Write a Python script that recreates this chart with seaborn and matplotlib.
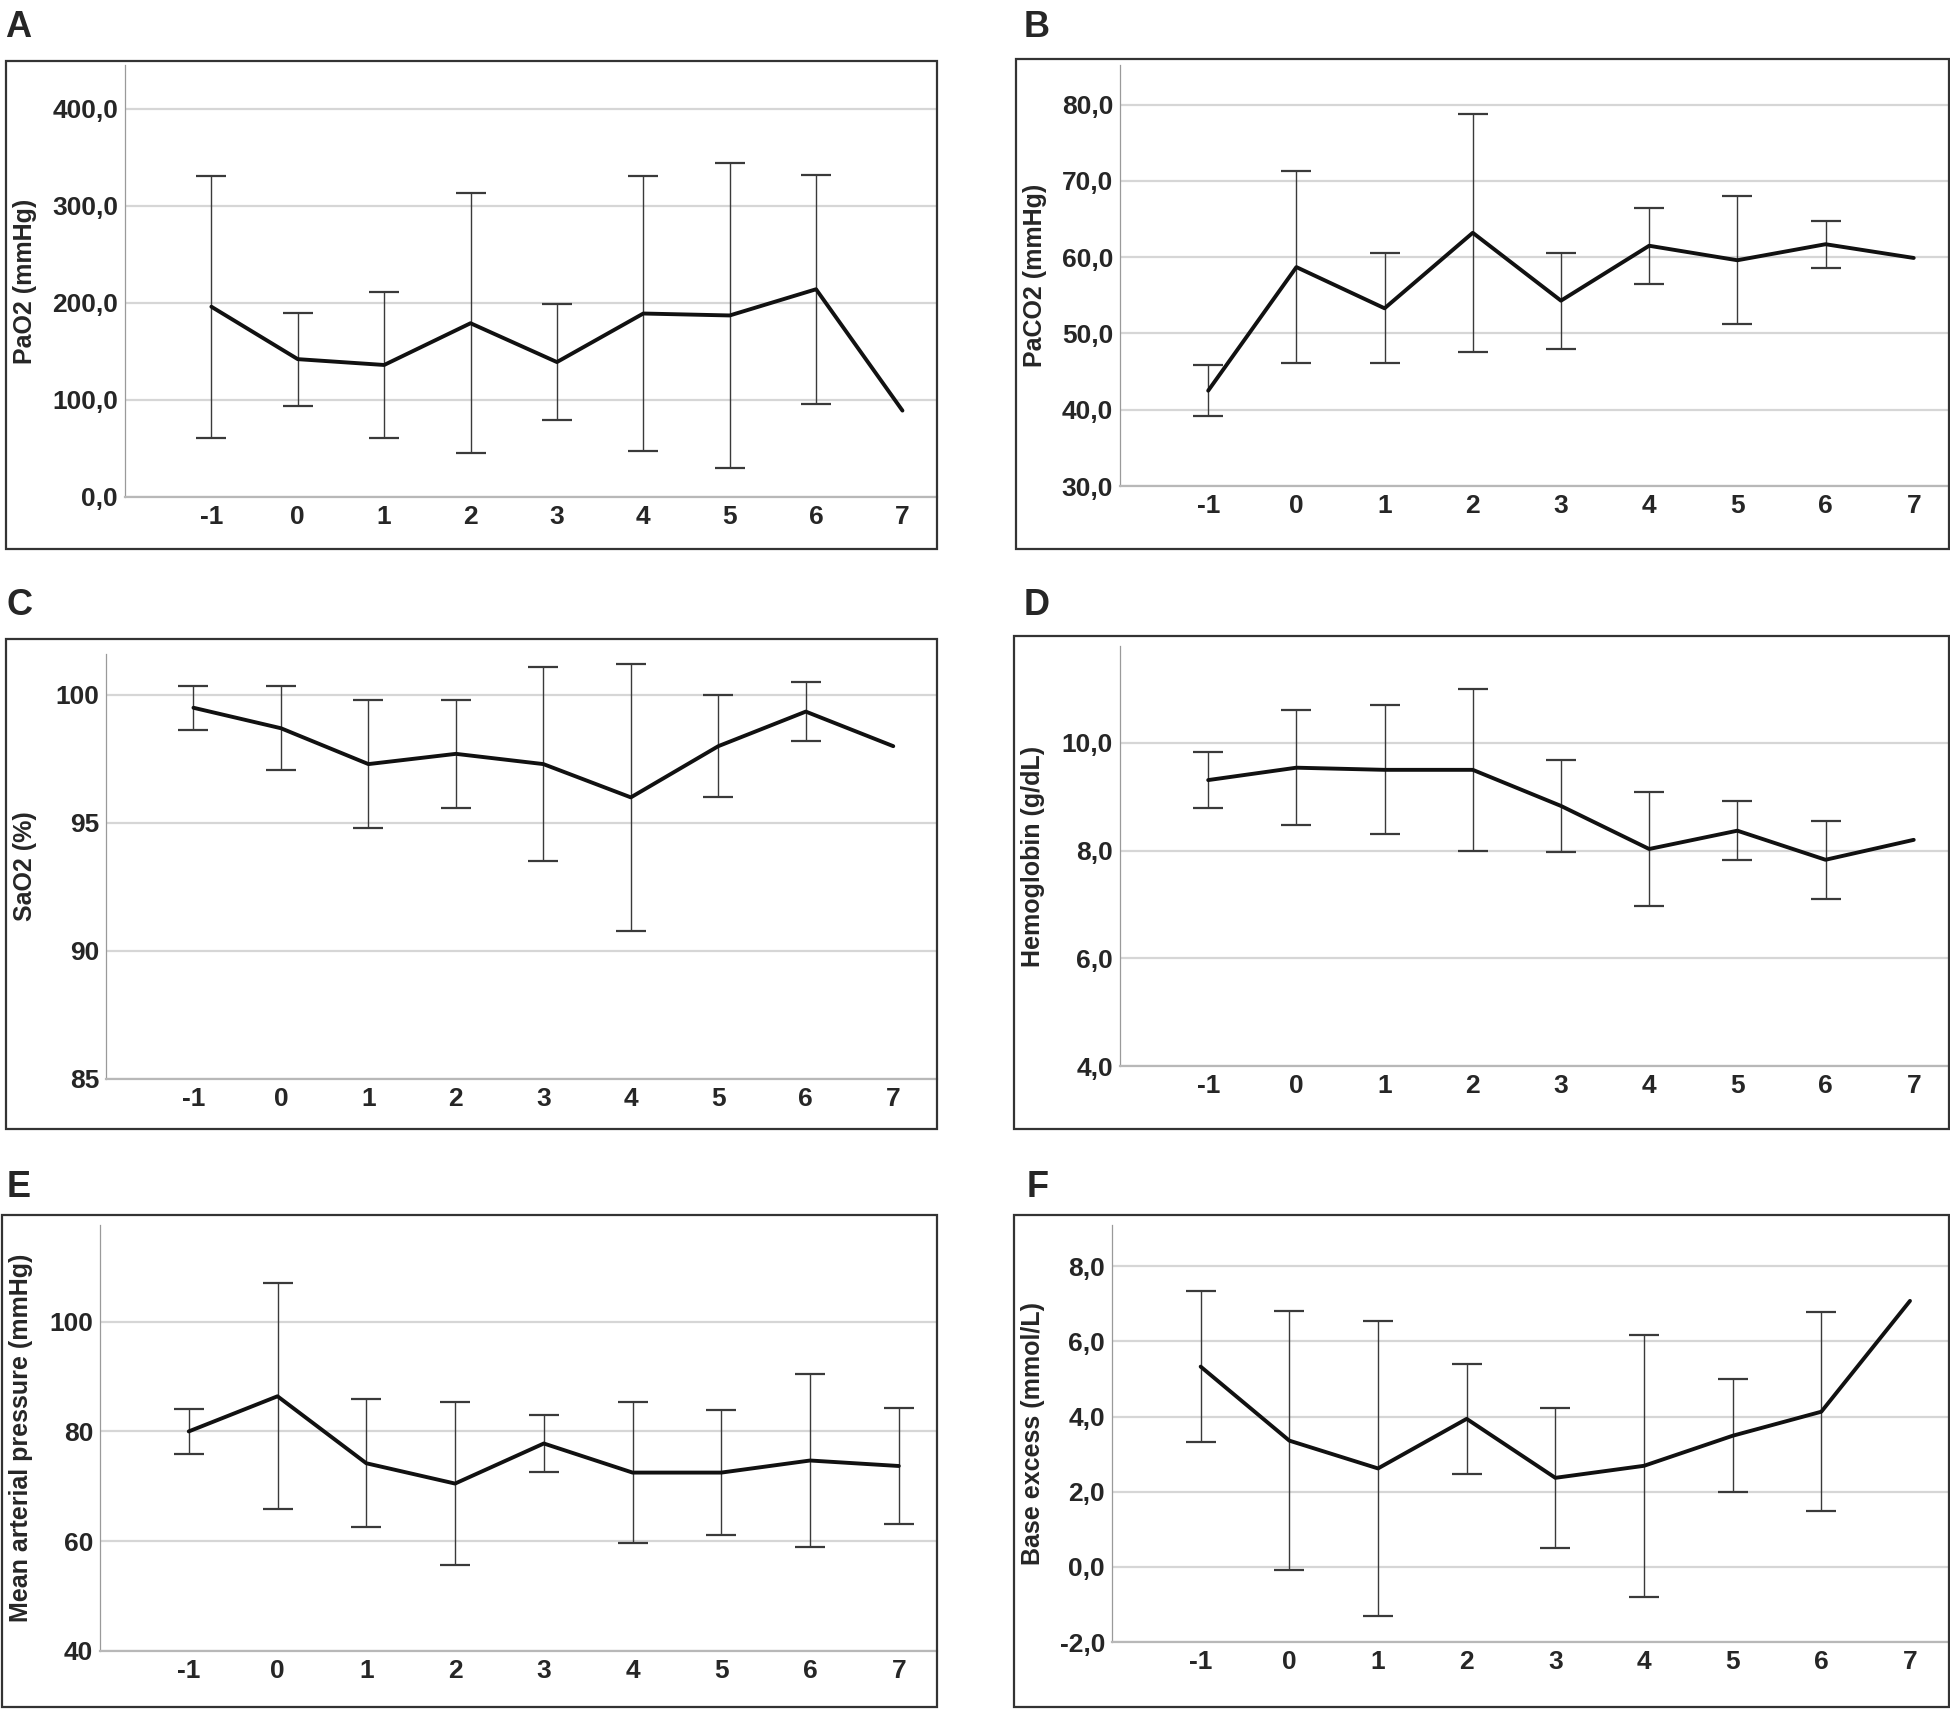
import numpy as np
import matplotlib
matplotlib.use("Agg")
import matplotlib.pyplot as plt
from matplotlib.patches import Rectangle
import seaborn as sns

#Day axis shared by all panels
days = [-1, 0, 1, 2, 3, 4, 5, 6, 7]
dayLabels = ["-1", "0", "1", "2", "3", "4", "5", "6", "7"]

#A - PaO2 (mean, SD)
pao2Mean = [196, 142, 136, 179, 139, 189, 187, 214, 89]
pao2Sd = [135, 48, 75, 134, 60, 142, 157, 118, np.nan]
pao2Ticks = [0, 100, 200, 300, 400]
pao2TickLabels = ["0,0", "100,0", "200,0", "300,0", "400,0"]

#B - PaCO2
paco2Mean = [42.5, 58.7, 53.3, 63.2, 54.3, 61.5, 59.6, 61.7, 59.9]
paco2Sd = [3.3, 12.6, 7.2, 15.6, 6.3, 5.0, 8.4, 3.1, np.nan]
paco2Ticks = [30, 40, 50, 60, 70, 80]
paco2TickLabels = ["30,0", "40,0", "50,0", "60,0", "70,0", "80,0"]

#C - SaO2
sao2Mean = [99.5, 98.7, 97.3, 97.7, 97.3, 96.0, 98.0, 99.35, 98.0]
sao2Sd = [0.85, 1.65, 2.5, 2.1, 3.8, 5.2, 2.0, 1.15, np.nan]
sao2Ticks = [85, 90, 95, 100]
sao2TickLabels = ["85", "90", "95", "100"]

#D - Hemoglobin
hbMean = [9.31, 9.54, 9.50, 9.50, 8.83, 8.03, 8.37, 7.83, 8.2]
hbSd = [0.52, 1.07, 1.2, 1.5, 0.85, 1.05, 0.55, 0.72, np.nan]
hbTicks = [4, 6, 8, 10]
hbTickLabels = ["4,0", "6,0", "8,0", "10,0"]

#E - Mean arterial pressure
mapMean = [80.0, 86.4, 74.2, 70.5, 77.8, 72.5, 72.5, 74.7, 73.7]
mapSd = [4.1, 20.6, 11.7, 14.9, 5.2, 12.9, 11.4, 15.7, 10.5]
mapTicks = [40, 60, 80, 100]
mapTickLabels = ["40", "60", "80", "100"]

#F - Base excess
beMean = [5.33, 3.36, 2.62, 3.94, 2.37, 2.69, 3.49, 4.13, 7.08]
beSd = [2.0, 3.45, 3.93, 1.46, 1.87, 3.49, 1.51, 2.65, np.nan]
beTicks = [-2, 0, 2, 4, 6, 8]
beTickLabels = ["-2,0", "0,0", "2,0", "4,0", "6,0", "8,0"]

panelLetters = ["A", "B", "C", "D", "E", "F"]
yLabels = ["PaO2 (mmHg)", "PaCO2 (mmHg)", "SaO2 (%)", "Hemoglobin (g/dL)",
           "Mean arterial pressure (mmHg)", "Base excess (mmol/L)"]
means = [pao2Mean, paco2Mean, sao2Mean, hbMean, mapMean, beMean]
sds = [pao2Sd, paco2Sd, sao2Sd, hbSd, mapSd, beSd]
yTicks = [pao2Ticks, paco2Ticks, sao2Ticks, hbTicks, mapTicks, beTicks]
yTickLabels = [pao2TickLabels, paco2TickLabels, sao2TickLabels, hbTickLabels, mapTickLabels, beTickLabels]
yTops = [445, 85.2, 101.6, 11.8, 117.6, 9.1]

#Layout in pixels (left, top, right, bottom)
W, H = 1950, 1709
axesPx = [(125, 65, 937, 497), (1120, 65, 1949, 486),
          (106, 654, 937, 1079), (1120, 646, 1949, 1066),
          (100, 1225, 937, 1651), (1112, 1225, 1949, 1642)]
boxPx = [(6, 61, 937, 549), (1016, 59, 1949, 549),
         (6, 639, 937, 1129), (1014, 636, 1949, 1129),
         (2, 1215, 937, 1707), (1014, 1215, 1949, 1707)]
letterPx = [(5, 37), (1024, 37), (7, 615), (1024, 615), (7, 1197), (1027, 1197)]
xRight = [7.4, 7.4, 7.5, 7.4, 7.43, 7.44]

sns.set_style("white")
plt.rcParams['font.family'] = ['Liberation Sans', 'DejaVu Sans']
plt.rcParams['font.weight'] = 'bold'

fig = plt.figure(figsize=(W/100, H/100), dpi=100)

def figRect(l, t, r, b):
    return [l/W, 1-b/H, (r-l)/W, (b-t)/H]

for i in range(6):
    ax = fig.add_axes(figRect(*axesPx[i]))

    #Box around each panel
    bl, bt, br, bb = boxPx[i]
    fig.add_artist(Rectangle((bl/W, 1-bb/H), (br-bl)/W, (bb-bt)/H, transform=fig.transFigure,
                             fill=False, edgecolor="#333333", linewidth=1.6))
    fig.text(letterPx[i][0]/W, 1-letterPx[i][1]/H, panelLetters[i], fontsize=26,
             fontweight='bold', ha='left', va='baseline')

    m = np.array(means[i], dtype=float)
    s = np.array(sds[i], dtype=float)
    d = np.array(days)
    ok = ~np.isnan(s)

    #SD bars
    ax.errorbar(d[ok], m[ok], yerr=s[ok], fmt='none', ecolor="#3a3a3a", elinewidth=1.0,
                capsize=11, capthick=1.6, zorder=2)
    #Mean line
    sns.lineplot(x=days, y=means[i], ax=ax, color="#111111", linewidth=2.8, zorder=3)

    ax.set_xlim(-2, xRight[i])
    ax.set_ylim(yTicks[i][0], yTops[i])
    ax.set_xticks(days)
    ax.set_xticklabels(dayLabels, fontsize=19, fontweight='bold')
    ax.set_yticks(yTicks[i])
    ax.set_yticklabels(yTickLabels[i], fontsize=19, fontweight='bold')
    ax.tick_params(axis='both', length=0)
    ax.tick_params(axis='x', pad=6)
    ax.tick_params(axis='y', pad=5)
    ax.yaxis.grid(True, color="#d6d6d6", linewidth=1.6)
    ax.set_axisbelow(True)
    ax.patch.set_visible(False)

    for side in ["top", "right"]:
        ax.spines[side].set_visible(False)
    ax.spines["left"].set_color("#9a9a9a")
    ax.spines["left"].set_linewidth(0.9)
    ax.spines["bottom"].set_color("#b8b8b8")
    ax.spines["bottom"].set_linewidth(1.6)

    ax.set_ylabel(yLabels[i], fontsize=18, fontweight='bold')
    ax.yaxis.set_label_coords(-(axesPx[i][0] - boxPx[i][0] - 31)/(axesPx[i][2]-axesPx[i][0]), 0.5)

fig.savefig("out.png", dpi=100, facecolor="white")
